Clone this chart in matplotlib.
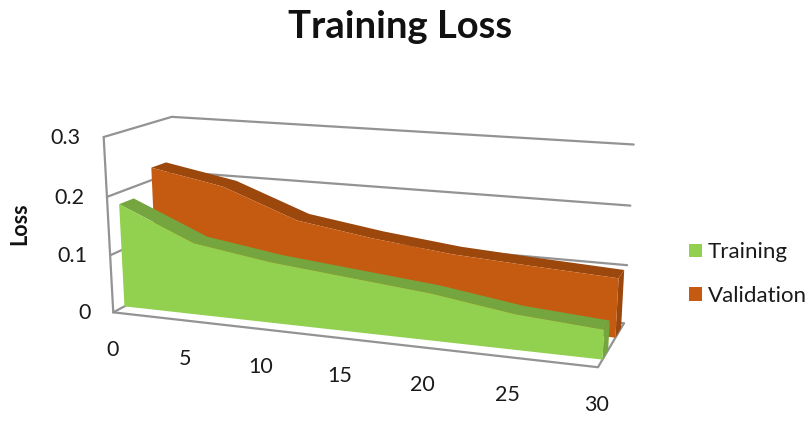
import numpy as np
import matplotlib
matplotlib.use('Agg')
import matplotlib.pyplot as plt
from matplotlib.patches import Patch

plt.rcParams['font.family'] = ['Lato', 'DejaVu Sans']

epochs = [0, 5, 10, 15, 20, 25, 30]
training = [0.180, 0.124, 0.104, 0.091, 0.078, 0.058, 0.048]
validation = [0.222, 0.198, 0.149, 0.129, 0.114, 0.106, 0.099]
loss_ticks = [0, 0.1, 0.2, 0.3]

GREEN, GREEN_DARK = '#92D050', '#74A53F'
ORANGE, ORANGE_DARK = '#C55A11', '#9C470C'
GRID = '#939393'

# box landmarks: (epoch, loss, depth) -> pixel
LANDMARKS = [
    ((0, 0, 0), (113, 311)), ((30, 0, 0), (598, 369)), ((0, 0.3, 0), (103, 138)),
    ((0, 0, 1), (178, 280)), ((30, 0, 1), (624, 322)),
    ((0, 0.3, 1), (172, 116)), ((30, 0.3, 1), (634, 145)),
    ((30, 0.2, 1), (630, 206)), ((30, 0.1, 1), (627, 264)),
    ((0, 0.2, 0), (107, 197)), ((0, 0.1, 0), (111, 254)),
]


def fit_camera(landmarks):
    rows = []
    for (x, y, d), (u, v) in landmarks:
        p = [x / 30, y / 0.3, d, 1]
        rows.append(p + [0, 0, 0, 0] + [-u * c for c in p])
        rows.append([0, 0, 0, 0] + p + [-v * c for c in p])
    return np.linalg.svd(np.array(rows, float))[2][-1].reshape(3, 4)


CAMERA = fit_camera(LANDMARKS)


def project(x, y, d):
    x, y, d = np.broadcast_arrays(np.asarray(x, float), np.asarray(y, float), np.asarray(d, float))
    h = CAMERA @ np.stack([x / 30, y / 0.3, d, np.ones_like(x)])
    return h[0] / h[2], h[1] / h[2]


def line3d(ax, x, y, d):
    ax.plot(*project(x, y, d), color=GRID, lw=1.6, solid_capstyle='round', zorder=1)


def area3d(ax, values, front, back, color, dark):
    xs = np.array(epochs, float)
    ys = np.array(values, float)
    top_x = np.r_[xs, xs[::-1]]
    top_y = np.r_[ys, ys[::-1]]
    top_d = np.r_[np.full(len(xs), front), np.full(len(xs), back)]
    ax.fill(*project(top_x, top_y, top_d), color=dark, lw=0)
    # right end cap
    ax.fill(*project([30, 30, 30, 30], [0, ys[-1], ys[-1], 0], [front, front, back, back]), color=dark, lw=0)
    ax.fill(*project(np.r_[xs, 30, 0], np.r_[ys, 0, 0], front), color=color, lw=0)


fig = plt.figure(figsize=(8.09, 4.21), dpi=100)
ax = fig.add_axes([0, 0, 1, 1])
ax.set_xlim(0, 809)
ax.set_ylim(421, 0)
ax.axis('off')

# walls and floor
for t in loss_ticks:
    line3d(ax, [0, 0, 30], [t, t, t], [0, 1, 1])
line3d(ax, [0, 0], [0, 0.3], [0, 0])
line3d(ax, [0, 30, 30], [0, 0, 0], [0, 0, 1])

area3d(ax, validation, 0.65, 0.88, ORANGE, ORANGE_DARK)
area3d(ax, training, 0.16, 0.37, GREEN, GREEN_DARK)

tick_color = '#1a1a1a'
for t in loss_ticks:
    u, v = project(0, t, 0)
    ax.text(u - 23, v + 1, f'{t:g}', ha='right', va='center', fontsize=15.5, color=tick_color)
for e in epochs:
    u, v = project(e, 0, 0)
    ax.text(u - 1, v + 38, str(e), ha='center', va='center', fontsize=15.5, color=tick_color)

ax.text(400, 27, 'Training Loss', ha='center', va='center', fontsize=27.5, fontweight='bold', color='#111111')
ax.text(20, 224, 'Loss', rotation=90, ha='center', va='center', fontsize=15.5, fontweight='bold', color='#111111')

handles = [Patch(color=GREEN, lw=0), Patch(color=ORANGE, lw=0)]
ax.legend(handles, ['Training', 'Validation'], loc='center left', bbox_to_anchor=(689 / 809, 1 - 274 / 421),
          frameon=False, fontsize=16, handlelength=0.58, handleheight=0.58, handletextpad=0.27,
          labelspacing=1.05, borderpad=0, borderaxespad=0, labelcolor=tick_color)

fig.savefig('out.png', dpi=100)
